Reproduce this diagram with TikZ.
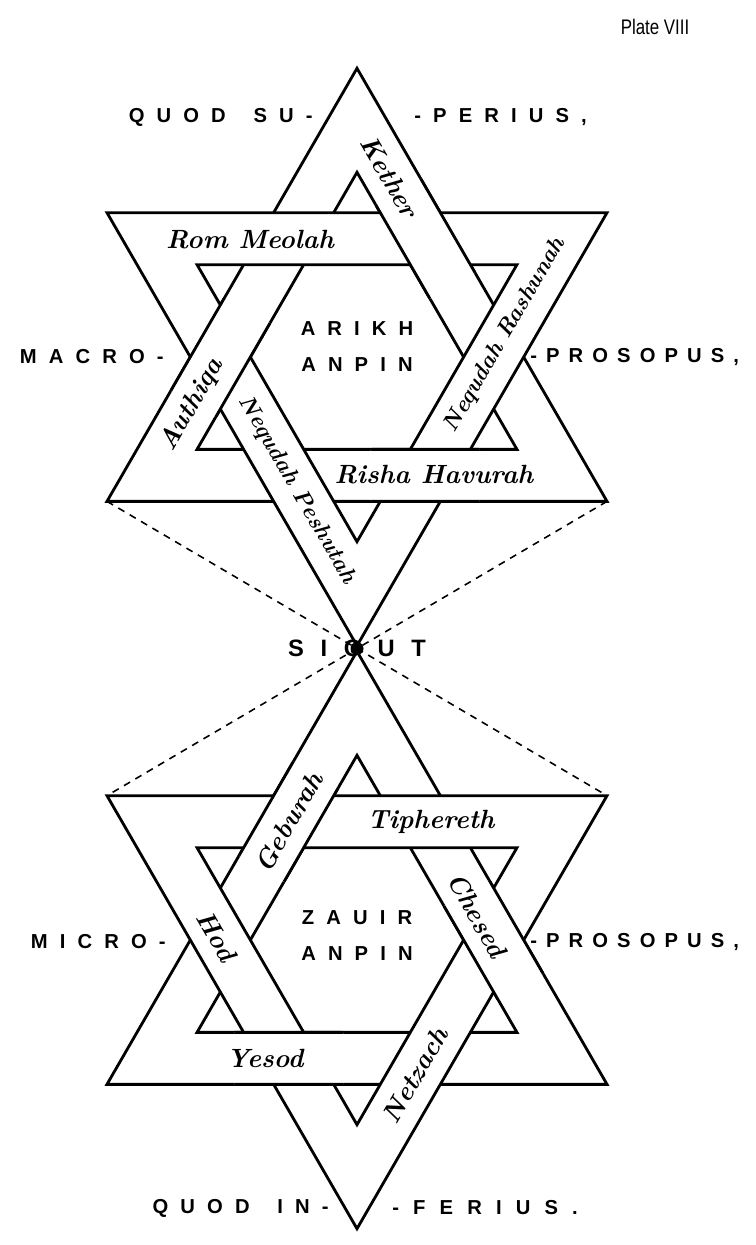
\documentclass[tikz,border=0pt]{standalone}
\usepackage{fontspec}
\usetikzlibrary{calc}
\newfontfamily\capsfont[LetterSpace=60]{Liberation Sans}
\newfontfamily\platefont[FakeStretch=0.8]{Liberation Sans}

\begin{document}
\begin{tikzpicture}[x=0.02cm, y=-0.02cm,
  every node/.style={inner sep=0pt},
  band/.style={line width=1.6pt, fill=white, even odd rule},
  seam/.style={line width=0.9pt, dash pattern=on 4pt off 3.5pt},
  caps/.style={font=\capsfont\bfseries\fontsize{11.5}{13}\selectfont},
  bigcaps/.style={font=\capsfont\bfseries\addfontfeature{LetterSpace=70}\fontsize{13.5}{16}\selectfont},
  sephira/.style={font=\bfseries\itshape\fontsize{15}{18}\selectfont},
  longname/.style={font=\bfseries\itshape\fontsize{13}{16}\selectfont}
]
\fill[white] (0,0) rectangle (756,1245);
\useasboundingbox (0,0) rectangle (756,1245);

% --- upper star: MACROPROSOPUS
\begin{scope}[shift={(357,357)}]
  \coordinate (MA-apex)  at (270:288.7);
  \coordinate (MA-bl)    at (150:288.7);
  \coordinate (MA-br)    at (30:288.7);
  \coordinate (MA-iapex) at (270:184.7);
  \coordinate (MA-ibl)   at (150:184.7);
  \coordinate (MA-ibr)   at (30:184.7);
  \coordinate (MA-bot)   at (90:288.7);
  \coordinate (MA-tl)    at (210:288.7);
  \coordinate (MA-tr)    at (330:288.7);
  \coordinate (MA-ibot)  at (90:184.7);
  \coordinate (MA-itl)   at (210:184.7);
  \coordinate (MA-itr)   at (330:184.7);
  \draw[band] (MA-apex) -- (MA-bl) -- (MA-br) -- cycle
              (MA-iapex) -- (MA-ibl) -- (MA-ibr) -- cycle;
  \draw[band] (MA-bot) -- (MA-tl) -- (MA-tr) -- cycle
              (MA-ibot) -- (MA-itl) -- (MA-itr) -- cycle;
  % the upward band lies on top at three crossings
  \foreach \a in {60,180,300}{
    \begin{scope}
      \clip (\a:136.6) circle [radius=60];
      \draw[band] (MA-apex) -- (MA-bl) -- (MA-br) -- cycle
                  (MA-iapex) -- (MA-ibl) -- (MA-ibr) -- cycle;
    \end{scope}
  }
\end{scope}

% --- lower star: MICROPROSOPUS
\begin{scope}[shift={(357,940)}]
  \coordinate (MI-apex)  at (270:288.7);
  \coordinate (MI-bl)    at (150:288.7);
  \coordinate (MI-br)    at (30:288.7);
  \coordinate (MI-iapex) at (270:184.7);
  \coordinate (MI-ibl)   at (150:184.7);
  \coordinate (MI-ibr)   at (30:184.7);
  \coordinate (MI-bot)   at (90:288.7);
  \coordinate (MI-tl)    at (210:288.7);
  \coordinate (MI-tr)    at (330:288.7);
  \coordinate (MI-ibot)  at (90:184.7);
  \coordinate (MI-itl)   at (210:184.7);
  \coordinate (MI-itr)   at (330:184.7);
  \draw[band] (MI-apex) -- (MI-bl) -- (MI-br) -- cycle
              (MI-iapex) -- (MI-ibl) -- (MI-ibr) -- cycle;
  \draw[band] (MI-bot) -- (MI-tl) -- (MI-tr) -- cycle
              (MI-ibot) -- (MI-itl) -- (MI-itr) -- cycle;
  \foreach \a in {0,120,240}{
    \begin{scope}
      \clip (\a:136.6) circle [radius=60];
      \draw[band] (MI-apex) -- (MI-bl) -- (MI-br) -- cycle
                  (MI-iapex) -- (MI-ibl) -- (MI-ibr) -- cycle;
    \end{scope}
  }
\end{scope}

% --- dotted links through the meeting point
\coordinate (sicut) at ($(MA-bot)!0.5!(MI-apex)$);
\draw[seam] (MA-bl) -- (sicut) -- (MI-tl);
\draw[seam] (MA-br) -- (sicut) -- (MI-tr);

% --- names on the bands
\node[sephira]               (rom)      at (250,240) {Rom Meolah};
\node[sephira, rotate=-60]   (kether)   at (390,177) {Kether};
\node[longname, rotate=60]   (rashunah) at (505,335) {Nequdah Rashunah};
\node[sephira, rotate=60]    (authiqa)  at (192,405) {Authiqa};
\node[longname, rotate=-60]  (peshutah) at (297,490) {Nequdah Peshutah};
\node[sephira]               (risha)    at (434,475) {Risha Havurah};
\node[sephira, rotate=60]    (geburah)  at (289,822) {Geburah};
\node[sephira]               (tiph)     at (431,822) {Tiphereth};
\node[sephira, rotate=-60]   (hod)      at (217,936) {Hod};
\node[sephira, rotate=-60]   (chesed)   at (477,915) {Chesed};
\node[sephira]               (yesod)    at (265,1058) {Yesod};
\node[sephira, rotate=60]    (netzach)  at (415,1075) {Netzach};

\node[caps] (arikh)  at (357,329) {ARIKH};
\node[caps] (anpin1) at (357,365) {ANPIN};
\node[caps] (zauir)  at (357,918) {ZAUIR};
\node[caps] (anpin2) at (357,954) {ANPIN};

% --- outer legend
\node[caps, anchor=east] (sup1) at (313,117)  {QUOD\hspace{0.5em} SU-};
\node[caps, anchor=west] (sup2) at (414,117)  {-PERIUS,};
\node[caps, anchor=east] (mac1) at (164,357)  {MACRO-};
\node[caps, anchor=west, font=\capsfont\bfseries\addfontfeature{LetterSpace=45}\fontsize{11.5}{13}\selectfont]
                         (mac2) at (530,357)  {-PROSOPUS,};
\node[caps, anchor=east] (mic1) at (166,942)  {MICRO-};
\node[caps, anchor=west, font=\capsfont\bfseries\addfontfeature{LetterSpace=45}\fontsize{11.5}{13}\selectfont]
                         (mic2) at (530,942)  {-PROSOPUS,};
\node[caps, anchor=east] (inf1) at (329,1208) {QUOD\hspace{0.5em} IN-};
\node[caps, anchor=west, font=\capsfont\bfseries\addfontfeature{LetterSpace=70}\fontsize{11.5}{13}\selectfont]
                         (inf2) at (392,1208) {-FERIUS.};
\node[bigcaps] (sicut-txt) at (sicut) {SICUT};
\fill (sicut) circle [radius=6.5];
\node[font=\platefont\fontsize{12}{14}\selectfont] (plate) at (655,27) {Plate VIII};
\end{tikzpicture}
\end{document}
